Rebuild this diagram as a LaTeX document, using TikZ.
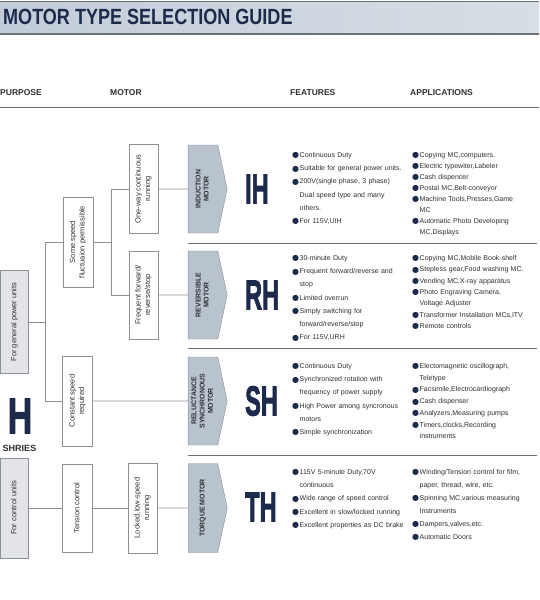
\documentclass[tikz,border=0pt]{standalone}
\usepackage{fontspec}
\setmainfont{Liberation Sans}
\newfontfamily\bulfont{DejaVu Sans}
\newfontfamily\bigfont{Liberation Sans Bold}[FakeBold=2.5]
\usetikzlibrary{shapes.symbols,positioning}
\definecolor{navy}{HTML}{1C2A4C}
\definecolor{boxgray}{HTML}{E2E4E8}
\definecolor{motgray}{HTML}{B9C3CE}
\definecolor{linegray}{HTML}{8C9198}
\definecolor{rulegray}{HTML}{6B717A}
\definecolor{txtgray}{HTML}{2E3033}
\definecolor{barleft}{HTML}{C2CCD8}
\definecolor{barright}{HTML}{D8DEE5}
\newcommand\vtxt[1]{\rotatebox{90}{\begin{tabular}{@{}c@{}}#1\end{tabular}}}
\newcommand\bul{\makebox[7.5pt][l]{\raisebox{-0.4pt}{\fontsize{8}{8}\bulfont\textcolor{navy}{●}}}}
\newcommand\itm[1]{\hangindent=7.5pt\hangafter=1\noindent\bul#1\par}

\begin{document}
\begin{tikzpicture}[x=1pt, y=-1pt, bx/.style={draw=linegray, fill=white, inner sep=0, font=\fontsize{7.5}{9.5}\selectfont, text=txtgray}, pbx/.style={bx, fill=boxgray}, mot/.style={shape=signal, signal to=east, signal pointer angle=156, draw=linegray, fill=motgray, inner sep=0, font=\bfseries\fontsize{7}{8.2}\selectfont, text=txtgray}, ln/.style={draw=linegray, line width=0.6pt}, sep/.style={draw=rulegray, line width=0.9pt}, hd/.style={anchor=west, inner sep=0, font=\bfseries\fontsize{8.5}{10}\selectfont, text=txtgray}, big/.style={anchor=west, inner sep=0, font=\bigfont\fontsize{42}{42}\selectfont, text=navy}, ft/.style={anchor=base west, inner sep=0, text width=116pt, align=left, font=\fontsize{7}{13.2}\selectfont, text=txtgray}]
\useasboundingbox (0,0) rectangle (539,600);
\fill[white] (0,0) rectangle (539,600);
% title bar
\shade[left color=barleft, right color=barright] (0,1.5) rectangle (539,34);
\draw[rulegray, line width=1.2pt] (0,1.5) -- (539,1.5) (0,34) -- (539,34);
\node[anchor=west, inner sep=0, text=navy, font=\bfseries\fontsize{22}{22}\selectfont] (title) at (3,17) {\scalebox{0.82}[1]{MOTOR TYPE SELECTION GUIDE}};
% headers
\node[hd] (hp) at (0,93) {PURPOSE};
\node[hd] (hm) at (110,93) {MOTOR};
\node[hd] (hf) at (290,93) {FEATURES};
\node[hd] (ha) at (410,93) {APPLICATIONS};
\draw[rulegray, line width=1pt] (0,107) -- (539,107);
% purpose / motor boxes
\node[pbx, minimum width=28, minimum height=103] (gen) at (14.5,322) {\vtxt{For general power units}};
\node[pbx, minimum width=28, minimum height=100] (ctl) at (14.5,508) {\vtxt{For control units}};
\node[bx, minimum width=30, minimum height=90] (ss) at (78,242) {\vtxt{Some speed\\fluctuaion permissible}};
\node[bx, minimum width=30, minimum height=90] (cs) at (77.5,401) {\vtxt{Constant speed\\required}};
\node[bx, minimum width=30, minimum height=88] (tc) at (77.5,508) {\vtxt{Tension control}};
\node[bx, minimum width=29, minimum height=89] (ow) at (143.5,189) {\vtxt{One-way continuous\\running}};
\node[bx, minimum width=29, minimum height=88] (fr) at (143.5,295) {\vtxt{Frequent forward/\\reverse/stop}};
\node[bx, minimum width=29, minimum height=90] (lk) at (142.5,508) {\vtxt{Locked,low-speed\\running}};
\node[mot, minimum width=39, minimum height=88] (pIH) at (203,189) {\vtxt{INDUCTION\\MOTOR}};
\node[mot, minimum width=39, minimum height=88] (pRH) at (203,295) {\vtxt{REVERSIBLE\\MOTOR}};
\node[mot, minimum width=39, minimum height=88] (pSH) at (203,401) {\vtxt{RELUCTANCE\\SYNCHRONOUS\\MOTOR}};
\node[mot, minimum width=39, minimum height=89] (pTH) at (203,508) {\vtxt{TORQUE MOTOR}};
% series letters
\node[big] (IH) at (245,189) {\scalebox{0.56}[1]{IH}};
\node[big] (RH) at (245,295) {\scalebox{0.56}[1]{RH}};
\node[big] (SH) at (245,401) {\scalebox{0.56}[1]{SH}};
\node[big] (TH) at (245,507) {\scalebox{0.56}[1]{TH}};
\node[inner sep=0, text=navy, font=\bigfont\fontsize{50}{50}\selectfont] (H) at (20,416) {\scalebox{0.67}[1]{H}};
\node[hd, anchor=center, font=\bfseries\fontsize{9}{10}\selectfont] (shr) at (19.5,448) {SHRIES};
% connectors
\coordinate (j1) at (111,242);
\coordinate (j2) at (45,322);
\draw[ln] (gen) -- (j2); \draw[ln] (j2) |- (ss); \draw[ln] (j2) |- (cs); \draw[ln] (ss) -- (j1); \draw[ln] (j1) |- (ow); \draw[ln] (j1) |- (fr);
\draw[ln] (ow) -- (pIH); \draw[ln] (fr) -- (pRH); \draw[ln] (cs) -- (pSH); \draw[ln] (ctl) -- (tc); \draw[ln] (tc) -- (lk); \draw[ln] (lk) -- (pTH);
% row rules
\draw[sep] (188,243) -- (537,243); \draw[sep] (188,348) -- (537,348); \draw[sep] (188,455) -- (537,455);
% features
\node[ft] (fIH) at (292,157.5) {\itm{Continuous Duty}\itm{Suitable for general power units.}\itm{200V(single phase, 3 phase)\newline Dual speed type and many\newline others.}\itm{For 115V,UIH}};
\node[ft] (fRH) at (292,260.5) {\itm{30-minute Duty}\itm{Frequent forward/reverse and\newline stop}\itm{Limited overrun}\itm{Simply switching for\newline forward/reverse/stop}\itm{For 115V,URH}};
\node[ft] (fSH) at (292,368.5) {\itm{Continuous Duty}\itm{Synchronized rotation with\newline frequency of power supply}\itm{High Power among syncronous\newline motors}\itm{Simple synchronization}};
\node[ft] (fTH) at (292,474.5) {\itm{115V 5-minute Duty,70V\newline continuous}\itm{Wide range of speed control}\itm{Excellent in slow/locked running}\itm{Excellent properties as DC brake}};
% applications
\node[ft, font=\fontsize{7}{11}\selectfont] (aIH) at (412,157.5) {\itm{Copying MC,computers.}\itm{Electric typewiter,Labeler}\itm{Cash dispencer}\itm{Postal MC,Belt-conveyor}\itm{Machine Tools,Presses,Game\newline MC}\itm{Automatic Photo Developing\newline MC,Displays}};
\node[ft, font=\fontsize{7}{11.3}\selectfont] (aRH) at (412,260.5) {\itm{Copying MC,Mobile Book-shelf}\itm{Stepless gear,Food washing MC.}\itm{Vending MC,X-ray apparatus}\itm{Photo Engraving Camera,\newline Voltage Adjuster}\itm{Transformer Installation MCs,ITV}\itm{Remote controls}};
\node[ft, font=\fontsize{7}{11.7}\selectfont] (aSH) at (412,368.5) {\itm{Electomagnetic oscillograph,\newline Teletype}\itm{Facsimile,Electrocardiograph}\itm{Cash dispenser}\itm{Analyzers,Measuring pumps}\itm{Timers,clocks,Recording\newline instruments}};
\node[ft, font=\fontsize{7}{13}\selectfont] (aTH) at (412,474.5) {\itm{Winding/Tension control for film,\newline paper, thread, wire, etc.}\itm{Spinning MC,various measuring\newline Instruments}\itm{Dampers,valves,etc.}\itm{Automatic Doors}};
\end{tikzpicture}
\end{document}
